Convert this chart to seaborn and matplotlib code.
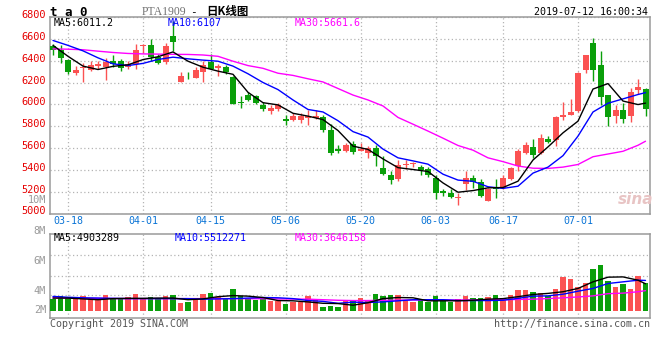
import numpy as np
import pandas as pd
import matplotlib
matplotlib.use("Agg")
import matplotlib.pyplot as plt
import seaborn as sns

# daily bars, PTA continuous (ta0), 80 sessions up to 2019-07-12
opens = [6530, 6500, 6410, 6290, 6335, 6313, 6350, 6340, 6401, 6395,
         6343, 6365, 6536, 6548, 6435, 6386, 6630, 6203, 6264, 6243,
         6295, 6386, 6334, 6343, 6252, 6020, 6081, 6075, 5998, 5937,
         5960, 5870, 5852, 5861, 5876, 5876, 5885, 5769, 5587, 5571,
         5641, 5575, 5556, 5602, 5413, 5349, 5312, 5440, 5450, 5425,
         5410, 5321, 5205, 5184, 5146, 5266, 5327, 5290, 5113, 5240,
         5235, 5312, 5434, 5556, 5608, 5550, 5684, 5669, 5885, 5901,
         5938, 6313, 6564, 6356, 6081, 5892, 5944, 5892, 6130, 6145]
closes = [6500, 6426, 6295, 6310, 6345, 6356, 6365, 6386, 6371, 6334,
          6371, 6502, 6541, 6435, 6380, 6538, 6569, 6264, 6255, 6310,
          6356, 6328, 6350, 6295, 6005, 6010, 6044, 6014, 5953, 5968,
          5990, 5850, 5892, 5892, 5892, 5890, 5769, 5556, 5575, 5632,
          5562, 5587, 5602, 5526, 5358, 5306, 5440, 5452, 5460, 5397,
          5352, 5184, 5190, 5153, 5152, 5321, 5290, 5159, 5229, 5229,
          5321, 5419, 5577, 5623, 5535, 5693, 5654, 5883, 5901, 5929,
          6289, 6448, 6313, 6066, 5885, 5944, 5867, 6114, 6160, 5953]
highs = [6555, 6548, 6415, 6350, 6380, 6395, 6400, 6420, 6448, 6416,
         6400, 6554, 6554, 6594, 6465, 6563, 6762, 6298, 6292, 6340,
         6395, 6465, 6370, 6360, 6264, 6075, 6111, 6090, 6020, 5998,
         6014, 5898, 5922, 5922, 5944, 5944, 5898, 5822, 5623, 5648,
         5663, 5648, 5617, 5623, 5526, 5388, 5486, 5486, 5475, 5440,
         5425, 5349, 5229, 5220, 5184, 5388, 5349, 5312, 5235, 5312,
         5349, 5425, 5587, 5654, 5678, 5724, 5709, 5892, 6023, 6053,
         6292, 6448, 6610, 6493, 6090, 5998, 6014, 6151, 6228, 6151]
lows = [6450, 6380, 6280, 6267, 6203, 6305, 6328, 6222, 6343, 6304,
        6325, 6325, 6472, 6395, 6365, 6365, 6487, 6203, 6228, 6237,
        6203, 6325, 6258, 6280, 5999, 5962, 6029, 6005, 5937, 5907,
        5937, 5807, 5846, 5831, 5815, 5870, 5747, 5534, 5556, 5565,
        5547, 5571, 5510, 5434, 5349, 5272, 5296, 5411, 5430, 5352,
        5336, 5129, 5160, 5144, 5074, 5211, 5236, 5150, 5113, 5144,
        5229, 5306, 5388, 5541, 5504, 5541, 5648, 5617, 5852, 5901,
        5932, 6289, 6218, 5998, 5800, 5831, 5831, 5837, 6093, 5892]
# volume in millions of lots
volumes = [2.12, 2.67, 2.36, 2.06, 2.60, 2.12, 1.94, 2.85, 2.12, 2.12,
           2.48, 3.03, 2.12, 2.48, 2.12, 2.67, 2.85, 1.39, 1.58, 2.06,
           3.03, 3.21, 2.48, 2.12, 3.94, 2.67, 2.12, 1.94, 2.30, 1.76,
           1.70, 1.21, 1.52, 1.58, 2.67, 2.00, 0.60, 0.85, 0.67, 1.82,
           1.82, 2.24, 1.82, 3.03, 2.67, 2.85, 2.85, 1.94, 1.64, 1.94,
           1.64, 2.67, 1.94, 1.64, 2.12, 2.67, 2.24, 2.24, 2.42, 2.85,
           2.24, 2.85, 3.76, 3.76, 3.39, 3.15, 2.67, 3.94, 6.12, 5.76,
           4.30, 5.00, 7.60, 8.30, 5.40, 4.30, 4.85, 4.00, 6.30, 5.09]

ma_idx = list(range(0, 80, 2)) + [79]
ma5 = [6540, 6440, 6350, 6319, 6348, 6362, 6410, 6436, 6480, 6395,
       6340, 6304, 6275, 6110, 6015, 5995, 5918, 5892, 5860, 5760,
       5617, 5587, 5500, 5420, 5403, 5385, 5280, 5195, 5210, 5235,
       5238, 5296, 5490, 5610, 5739, 5846, 6140, 6190, 6030, 5998, 6011]
ma10 = [6585, 6540, 6490, 6426, 6371, 6355, 6375, 6411, 6432, 6417,
        6405, 6395, 6350, 6280, 6200, 6135, 6040, 5953, 5930, 5850,
        5750, 5700, 5590, 5510, 5482, 5452, 5360, 5306, 5295, 5245,
        5230, 5250, 5370, 5425, 5530, 5709, 5930, 6010, 6050, 6090, 6107]
ma30 = [6508, 6505, 6500, 6487, 6475, 6466, 6462, 6460, 6458, 6457,
        6452, 6440, 6395, 6355, 6330, 6285, 6265, 6234, 6205, 6145,
        6085, 6040, 5985, 5880, 5818, 5755, 5690, 5623, 5580, 5510,
        5475, 5435, 5415, 5413, 5425, 5449, 5520, 5545, 5570, 5625, 5662]
vma5 = [2.30, 2.30, 2.15, 2.00, 2.20, 2.25, 2.25, 2.30, 2.30, 2.00,
        2.15, 2.55, 2.75, 2.65, 2.40, 1.85, 1.80, 1.60, 1.35, 1.30,
        1.00, 1.45, 2.20, 2.40, 2.35, 1.80, 1.80, 1.80, 1.90, 2.10,
        2.20, 2.55, 2.95, 3.15, 3.45, 4.05, 5.25, 6.10, 6.15, 5.55, 4.90]
vma10 = [2.60, 2.45, 2.35, 2.30, 2.25, 2.20, 2.20, 2.20, 2.20, 2.20,
         2.10, 2.15, 2.20, 2.30, 2.40, 2.35, 2.20, 1.85, 1.70, 1.35,
         1.55, 1.50, 1.60, 1.80, 2.00, 2.00, 2.00, 1.85, 1.85, 1.85,
         1.90, 2.25, 2.65, 2.70, 3.00, 3.55, 4.05, 4.95, 5.25, 5.55, 5.51]
vma30 = [2.35, 2.30, 2.25, 2.25, 2.22, 2.20, 2.20, 2.20, 2.20, 2.20,
         2.20, 2.20, 2.20, 2.18, 2.18, 2.15, 2.12, 2.10, 2.00, 1.90,
         1.85, 1.85, 1.90, 1.92, 1.95, 1.95, 1.95, 1.95, 1.95, 1.98,
         2.00, 2.05, 2.10, 2.20, 2.35, 2.50, 2.70, 3.10, 3.20, 3.45, 3.65]

date_ticks = [2, 12, 21, 31, 41, 51, 60, 70]
date_labels = ["03-18", "04-01", "04-15", "05-06", "05-20", "06-03", "06-17", "07-01"]
price_ticks = [5000, 5200, 5400, 5600, 5800, 6000, 6200, 6400, 6600, 6800]
vol_labels = ["10M", "8M", "6M", "4M", "2M"]
vol_label_y = [200, 231, 260.7, 290.7, 310]

RED = "#fb5252"
GREEN = "#0a9f0a"
GRID = "#b4b4b4"
EDGE = "#9a9a9a"
MONO = ["DejaVu Sans Mono", "Noto Sans CJK SC"]

sns.set_style("white")
plt.rcParams["font.family"] = MONO

W, H = 660, 360
fig = plt.figure(figsize=(W / 100, H / 100), dpi=100)


def fx(x):
    return x / W


def fy(y):
    return 1 - y / H


ax = fig.add_axes([fx(50), fy(213.5), 600 / W, 196.5 / H])
axv = fig.add_axes([fx(50), fy(318.3), 600 / W, 84 / H])

idx = np.arange(len(closes))
o = np.array(opens)
c = np.array(closes)
up = c >= o
cols = np.where(up, RED, GREEN)

# candles
ax.vlines(idx, lows, highs, colors=cols, lw=1.0, zorder=3)
body = np.maximum(np.abs(c - o), 8)
ax.bar(idx, body, bottom=np.minimum(o, c), width=0.8, color=cols, lw=0, zorder=4)

sns.lineplot(x=ma_idx, y=ma30, color="#ff00ff", lw=1.0, ax=ax, zorder=5)
sns.lineplot(x=ma_idx, y=ma10, color="#0000ff", lw=1.0, ax=ax, zorder=6)
sns.lineplot(x=ma_idx, y=ma5, color="black", lw=1.0, ax=ax, zorder=7)

ax.set_xlim(-0.4, 79.6)
ax.set_ylim(5000, 6800)
ax.set_yticks(price_ticks)
ax.set_xticks(date_ticks)
ax.set_xticklabels([])
ax.set_yticklabels([])
ax.tick_params(length=0)
ax.grid(True, color=GRID, lw=0.9, ls=(0, (1, 2)))
ax.set_axisbelow(True)

# volume
vdf = pd.DataFrame({"idx": idx, "vol": volumes, "dir": np.where(up, "up", "down")})
sns.barplot(data=vdf, x="idx", y="vol", hue="dir", palette={"up": RED, "down": GREEN},
            native_scale=True, dodge=False, width=0.76, saturation=1, errorbar=None,
            legend=False, linewidth=0, ax=axv, zorder=3)
sns.lineplot(x=ma_idx, y=vma30, color="#ff00ff", lw=1.0, ax=axv, zorder=5)
sns.lineplot(x=ma_idx, y=vma10, color="#0000ff", lw=1.0, ax=axv, zorder=6)
sns.lineplot(x=ma_idx, y=vma5, color="black", lw=1.0, ax=axv, zorder=7)
axv.set_xlim(-0.4, 79.6)
axv.set_ylim(-1.38, 13.9)
axv.set_yticks([2.8, 6.4, 10.1])
axv.set_xticks(date_ticks)
axv.set_xticklabels([])
axv.set_yticklabels([])
axv.set_xlabel("")
axv.set_ylabel("")
axv.tick_params(length=0)
axv.grid(True, color=GRID, lw=0.9, ls=(0, (1, 2)))
axv.set_axisbelow(True)

for a in (ax, axv):
    for s in a.spines.values():
        s.set_color(EDGE)
        s.set_linewidth(1.1)

# price labels on the left
for p in price_ticks:
    y = 213.5 - (p - 5000) / 1800 * 196.5
    fig.text(fx(46), fy(y - 2), str(p), color="#e60000", fontsize=7.4,
             ha="right", va="center")
for lab, y in zip(vol_labels, vol_label_y):
    fig.text(fx(46), fy(y), lab, color="#9a9a9a", fontsize=7.4, ha="right", va="center")

# date labels
for t, lab in zip(date_ticks, date_labels):
    x = 53 + 7.5 * t
    fig.text(fx(x), fy(221), lab, color="#0a74d6", fontsize=7.2, ha="center", va="center")

# header
fig.text(fx(50), fy(12), "t a 0", fontsize=9, fontweight="bold", color="black",
         ha="left", va="center")
fig.text(fx(142), fy(12), "PTA1909", fontsize=8.4, color="#707070",
         family="Liberation Serif", ha="left", va="center")
fig.text(fx(190), fy(12), "-", fontsize=8, color="black", ha="left", va="center")
fig.text(fx(206), fy(12), "日K线图", fontsize=8.3, color="black", fontweight="bold",
         family=["Noto Sans CJK SC", "DejaVu Sans"], ha="left", va="center")
fig.text(fx(648), fy(12), "2019-07-12 16:00:34", fontsize=7.2, color="black",
         ha="right", va="center")

fig.text(fx(54), fy(22.5), "MA5:6011.2", fontsize=7.2, color="black", ha="left", va="center")
fig.text(fx(168), fy(22.5), "MA10:6107", fontsize=7.2, color="#0000ff", ha="left", va="center")
fig.text(fx(295), fy(22.5), "MA30:5661.6", fontsize=7.2, color="#ff00ff", ha="left", va="center")

fig.text(fx(54), fy(238), "MA5:4903289", fontsize=7.2, color="black", ha="left", va="center")
fig.text(fx(175), fy(238), "MA10:5512271", fontsize=7.2, color="#0000ff", ha="left", va="center")
fig.text(fx(295), fy(238), "MA30:3646158", fontsize=7.2, color="#ff00ff", ha="left", va="center")

fig.text(fx(50), fy(324), "Copyright 2019 SINA.COM", fontsize=7.2, color="#555555",
         ha="left", va="center")
fig.text(fx(650), fy(324), "http://finance.sina.com.cn", fontsize=7.2, color="#555555",
         ha="right", va="center")

# watermark
fig.text(fx(636), fy(199), "sina", fontsize=11, fontweight="bold", style="italic",
         color="#e8c4c4", family="DejaVu Sans", ha="center", va="center")

fig.savefig("out.png", dpi=100)
